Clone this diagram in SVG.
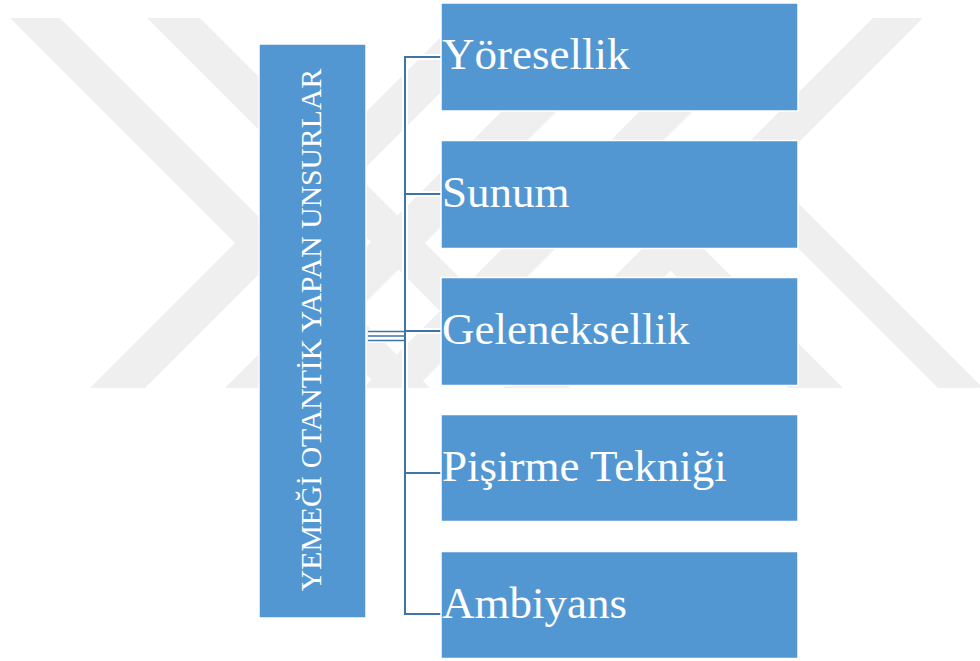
<svg xmlns="http://www.w3.org/2000/svg" width="980" height="661" viewBox="0 0 980 661">
<style>
.wm{fill:#efefef}
.box{fill:#5397D2;stroke:#ffffff;stroke-width:1.5}
.lbl{font-family:"Liberation Serif","Times New Roman",serif;font-size:45px;fill:#ffffff}
.title{font-family:"Liberation Serif","Times New Roman",serif;font-size:29.7px;fill:#ffffff}
.ln{stroke:#3E74A8;stroke-width:2;fill:none}
.ln3{stroke:#3E74A8;stroke-width:1.4;fill:none}
.halo{stroke:#ffffff;stroke-width:6;fill:none}
</style>
<defs>
<clipPath id="wmclip"><rect x="0" y="18" width="980" height="370"/></clipPath>
</defs>
<rect x="0" y="0" width="980" height="661" fill="#ffffff"/>
<g id="watermark" clip-path="url(#wmclip)">
<polygon class="wm" points="10,18 60,18 430,388 380,388"/>
<polygon class="wm" points="147,18 200,18 570,388 517,388"/>
<polygon class="wm" points="460,18 515,18 145,388 90,388"/>
<polygon class="wm" points="595,18 650,18 280,388 225,388"/>
<polygon class="wm" points="733,18 786,18 416,388 363,388"/>
<polygon class="wm" points="873,18 923,18 553,388 503,388"/>
<polygon class="wm" points="602,202 629.5,174.5 843,388 788,388"/>
<polygon class="wm" points="745.5,195.5 768,173 983,388 938,388"/>
</g>
<g id="connectors">
<path class="halo" d="M405,57 V614 M405,57 H441 M405,194 H441 M405,331 H441 M405,473 H441 M405,614 H441 M368,332 H405 M368,336 H405 M368,340 H405"/>
<path class="ln" d="M441,57 H405 V614 H441 M405,194 H441 M405,331 H441 M405,473 H441"/>
<path class="ln3" d="M368,331.5 H405 M368,336 H405 M368,340.5 H405"/>
</g>
<g id="main">
<rect class="box" x="259" y="44" width="107" height="574"/>
<text class="title" transform="translate(321,330) rotate(-90)" text-anchor="middle">YEMEĞİ OTANTİK YAPAN UNSURLAR</text>
</g>
<g id="n1">
<rect class="box" x="441" y="3" width="357" height="108"/>
<text class="lbl" x="442" y="69">Yöresellik</text>
</g>
<g id="n2">
<rect class="box" x="441" y="140.5" width="357" height="108"/>
<text class="lbl" x="442" y="206.5">Sunum</text>
</g>
<g id="n3">
<rect class="box" x="441" y="277.5" width="357" height="108"/>
<text class="lbl" x="442" y="343.5">Geleneksellik</text>
</g>
<g id="n4">
<rect class="box" x="441" y="414.5" width="357" height="107"/>
<text class="lbl" x="442" y="480.5">Pişirme Tekniği</text>
</g>
<g id="n5">
<rect class="box" x="441" y="551.5" width="357" height="107"/>
<text class="lbl" x="442" y="617.5">Ambiyans</text>
</g>
</svg>
